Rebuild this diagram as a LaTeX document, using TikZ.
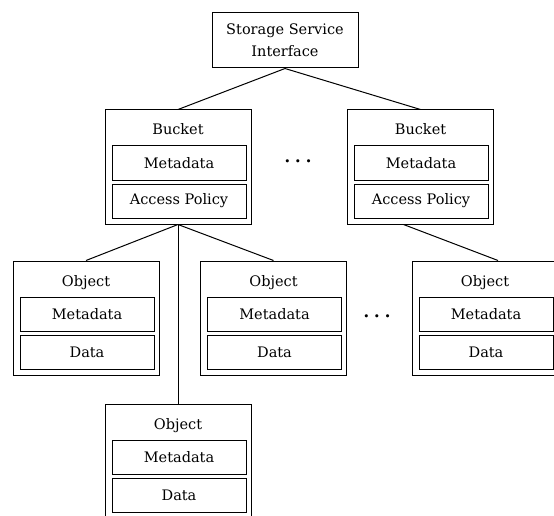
\documentclass[tikz,border=0pt]{standalone}
\usepackage{fontspec}
\setmainfont{DejaVu Serif}
\usepackage{tikz}

\begin{document}
\begin{tikzpicture}[x=1pt, y=-1pt, line width=1pt,
  every node/.style={font=\fontsize{14.5}{22}\selectfont, inner sep=0pt},
  box/.style={draw, minimum width=146pt, minimum height=114pt},
  part/.style={draw, minimum width=134pt, minimum height=34pt},
  title/.style={anchor=base},
  more/.style={font=\fontsize{20}{20}\selectfont\boldmath}]
  \useasboundingbox (0,0) rectangle (554,516);
  % top
  \node (iface) [draw, minimum width=146pt, minimum height=55pt, align=center] at (285,40.5) {Storage Service\\Interface};
  % buckets
  \node (b1) [box] at (178,167) {};
  \node (b1t) [title] at (178,135) {Bucket};
  \node (b1m) [part] at (179,163) {Metadata};
  \node (b1a) [part] at (179,201) {Access Policy};
  \node (b2) [box] at (420.5,167) {};
  \node (b2t) [title] at (420.5,135) {Bucket};
  \node (b2m) [part] at (421,163) {Metadata};
  \node (b2a) [part] at (421,201) {Access Policy};
  \node (dots1) [more] at (298,162) {$\cdots$};
  % objects
  \node (o1) [box] at (86,318) {};
  \node (o1t) [title] at (86,286) {Object};
  \node (o1m) [part] at (87,314) {Metadata};
  \node (o1d) [part] at (87,352) {Data};
  \node (o2) [box] at (273.5,318) {};
  \node (o2t) [title] at (273.5,286) {Object};
  \node (o2m) [part] at (274.5,314) {Metadata};
  \node (o2d) [part] at (274.5,352) {Data};
  \node (o3) [box] at (485,318) {};
  \node (o3t) [title] at (485,286) {Object};
  \node (o3m) [part] at (486,314) {Metadata};
  \node (o3d) [part] at (486,352) {Data};
  \node (o4) [box] at (178,461) {};
  \node (o4t) [title] at (178,429) {Object};
  \node (o4m) [part] at (179,457) {Metadata};
  \node (o4d) [part] at (179,495) {Data};
  \node (dots2) [more] at (377,317) {$\cdots$};
  % links
  \draw (iface.south) -- (b1.north);
  \draw (iface.south) -- (b2.north);
  \draw (b1.south) -- (o1.north);
  \draw (b1.south) -- (o2.north);
  \draw (b1.south) -- (o4.north);
  \draw ([xshift=-17pt]b2.south) -- ([xshift=13pt]o3.north);
\end{tikzpicture}
\end{document}
